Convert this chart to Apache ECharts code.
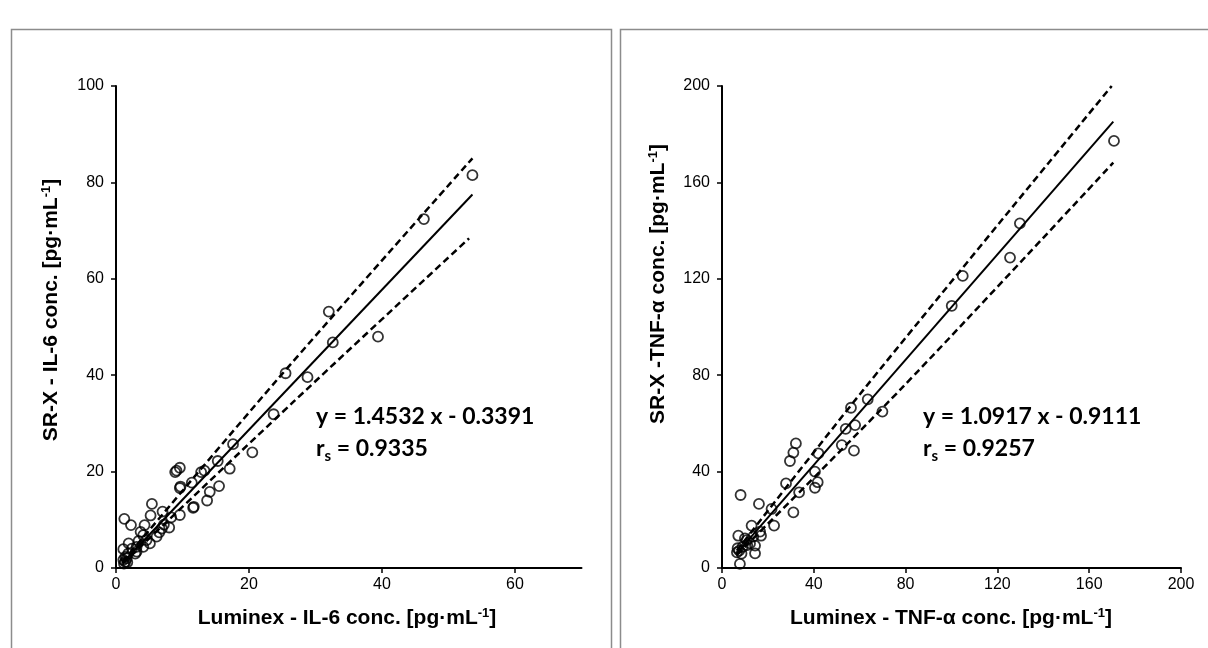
<!DOCTYPE html>
<html><head><meta charset="utf-8">
<script src="https://cdn.jsdelivr.net/npm/echarts@6/dist/echarts.min.js"></script>
<style>html,body{margin:0;padding:0;background:#fff}#c{width:1208px;height:648px}</style>
</head><body><div id="c"></div>
<script>
// IL-6: Luminex (x) vs SR-X (y), pg/mL
const il6Luminex = [53.6,46.3,32.0,32.6,39.4,25.5,28.8,23.7,20.5,17.6,15.3,17.1,12.8,13.3,9.6,9.1,8.9,11.4,9.7,9.6,15.5,14.1,13.7,11.7,11.6,9.6,5.4,5.2,7.0,8.3,8.0,6.1,6.9,1.25,2.25,4.3,3.7,5.1,1.9,1.1,3.1,4.1,2.9,3.1,1.4,1.1,1.4,1.6,1.85,4.1,7.2,6.5,4.6,3.4,2.4,1.2,1.7];
const il6SRX     = [81.5,72.4,53.2,46.8,48.0,40.4,39.6,31.9,24.0,25.7,22.2,20.6,19.9,20.2,20.8,20.2,19.9,17.7,16.9,16.6,17.0,15.8,14.0,12.7,12.5,11.0,13.3,10.9,11.7,10.5,8.4,6.5,8.2,10.2,8.9,8.9,7.5,5.1,5.1,3.9,4.4,4.4,3.0,3.4,2.3,1.7,1.3,2.0,3.0,6.8,9.0,7.4,5.8,5.6,4.0,0.9,1.2];
const il6Fit   = [[1.0,1.1],[53.6,77.5]];
const il6Upper = [[1.0,1.3],[24.2,39.0],[53.6,85.0]];
const il6Lower = [[1.0,0.9],[26.7,34.5],[53.1,68.4]];
const il6XTicks = [0,20,40,60];
const il6YTicks = [0,20,40,60,80,100];

// TNF-alpha
const tnfLuminex = [170.8,129.8,125.5,104.9,100.1,56.2,63.5,69.9,53.9,58.0,52.2,57.5,32.2,31.1,29.6,42.0,40.5,41.7,40.5,27.9,33.6,31.1,21.6,22.7,16.1,8.1,12.9,16.6,17.0,10.8,13.6,7.1,6.8,7.5,9.0,14.4,14.4,7.8,12.2,10.0,6.5,8.5,11.0];
const tnfSRX     = [177.2,143.0,128.8,121.2,108.8,66.5,70.0,64.9,57.7,59.3,51.0,48.7,51.7,47.9,44.4,47.6,40.0,35.6,33.3,35.1,31.4,23.1,24.5,17.6,26.6,30.3,17.6,15.1,13.4,11.6,13.0,13.4,8.2,7.2,8.8,9.3,6.1,1.7,10.2,12.3,6.5,6.0,9.5];
const tnfFit   = [[6.5,6.2],[170.5,185.2]];
const tnfUpper = [[6.5,7.3],[61.6,73.9],[169.8,200.0]];
const tnfLower = [[6.5,5.5],[78.3,74.6],[170.5,168.2]];
const tnfXTicks = [0,40,80,120,160,200];
const tnfYTicks = [0,40,80,120,160,200];

const zip = (a,b) => a.map((v,i)=>[v,b[i]]);

function xAx(idx, max, interval, ticks){
  return {type:'value', gridIndex:idx, min:0, max:max, interval:interval,
    axisLine:{show:true,onZero:false,lineStyle:{color:'#000',width:2}},
    axisTick:{show:true,length:5,customValues:ticks,lineStyle:{color:'#000',width:1.5}},
    axisLabel:{customValues:ticks,color:'#000',fontFamily:'Liberation Sans',fontSize:16,margin:9},
    splitLine:{show:false}};
}
function yAx(idx, max, interval, ticks){
  return {type:'value', gridIndex:idx, min:0, max:max, interval:interval,
    axisLine:{show:true,onZero:false,lineStyle:{color:'#000',width:2}},
    axisTick:{show:true,length:5,customValues:ticks,lineStyle:{color:'#000',width:1.5}},
    axisLabel:{customValues:ticks,color:'#000',fontFamily:'Liberation Sans',fontSize:16,margin:12},
    splitLine:{show:false}};
}
const scatterStyle = {color:'rgba(0,0,0,0)',borderColor:'#000',borderWidth:1.8};
function scat(idx, data){ return {type:'scatter',xAxisIndex:idx,yAxisIndex:idx,data:data,symbol:'circle',symbolSize:10,itemStyle:scatterStyle,z:3,silent:true}; }
function ln(idx, data, dashed){ return {type:'line',xAxisIndex:idx,yAxisIndex:idx,data:data,showSymbol:false,symbol:'none',smooth:dashed?0.3:false,
  lineStyle:{color:'#000',width:dashed?2.5:2,type:dashed?[7,4]:'solid'},z:2,silent:true}; }

const titleFont = {fontFamily:'Liberation Sans',fontWeight:'bold',fontSize:21,fill:'#000'};
const supRich = {sup:{fontFamily:'Liberation Sans',fontWeight:'bold',fontSize:13,verticalAlign:'top',lineHeight:23}};
const annFont = {fontFamily:'Lato',fontWeight:'bold',fontSize:23,fill:'#000'};
const subRich = {s:{fontFamily:'Lato',fontWeight:'bold',fontSize:15,verticalAlign:'bottom',lineHeight:30}};

const chart = echarts.init(document.getElementById('c'),null,{renderer:'canvas'});
chart.setOption({
  animation:false,
  backgroundColor:'#fff',
  grid:[
    {left:116,top:86,width:465.5,height:482},
    {left:722,top:86,width:459,height:482}
  ],
  xAxis:[xAx(0,70,20,il6XTicks), xAx(1,200,40,tnfXTicks)],
  yAxis:[yAx(0,100,20,il6YTicks), yAx(1,200,40,tnfYTicks)],
  series:[
    scat(0, zip(il6Luminex,il6SRX)), ln(0,il6Fit,false), ln(0,il6Upper,true), ln(0,il6Lower,true),
    scat(1, zip(tnfLuminex,tnfSRX)), ln(1,tnfFit,false), ln(1,tnfUpper,true), ln(1,tnfLower,true)
  ],
  graphic:[
    {type:'rect',shape:{x:11.5,y:29.5,width:600,height:640},style:{fill:'none',stroke:'#8c8c8c',lineWidth:1.5},silent:true},
    {type:'rect',shape:{x:620.5,y:29.5,width:640,height:640},style:{fill:'none',stroke:'#8c8c8c',lineWidth:1.5},silent:true},
    {type:'text',x:347,y:618,style:Object.assign({text:'Luminex - IL-6 conc. [pg·mL{sup|-1}]',align:'center',verticalAlign:'middle',rich:supRich},titleFont)},
    {type:'text',x:951,y:618,style:Object.assign({text:'Luminex - TNF-α conc. [pg·mL{sup|-1}]',align:'center',verticalAlign:'middle',rich:supRich},titleFont)},
    {type:'text',x:51,y:310,rotation:Math.PI/2,style:Object.assign({text:'SR-X - IL-6 conc. [pg·mL{sup|-1}]',align:'center',verticalAlign:'middle',rich:supRich},titleFont)},
    {type:'text',x:658,y:284,rotation:Math.PI/2,style:Object.assign({text:'SR-X -TNF-α conc. [pg·mL{sup|-1}]',align:'center',verticalAlign:'middle',rich:supRich},titleFont)},
    {type:'text',x:316,y:417,style:Object.assign({text:'y = 1.4532 x - 0.3391',verticalAlign:'middle'},annFont)},
    {type:'text',x:316,y:449,style:Object.assign({text:'r{s|s} = 0.9335',verticalAlign:'middle',rich:subRich},annFont)},
    {type:'text',x:923,y:417,style:Object.assign({text:'y = 1.0917 x - 0.9111',verticalAlign:'middle'},annFont)},
    {type:'text',x:923,y:449,style:Object.assign({text:'r{s|s} = 0.9257',verticalAlign:'middle',rich:subRich},annFont)}
  ]
});
</script></body></html>
